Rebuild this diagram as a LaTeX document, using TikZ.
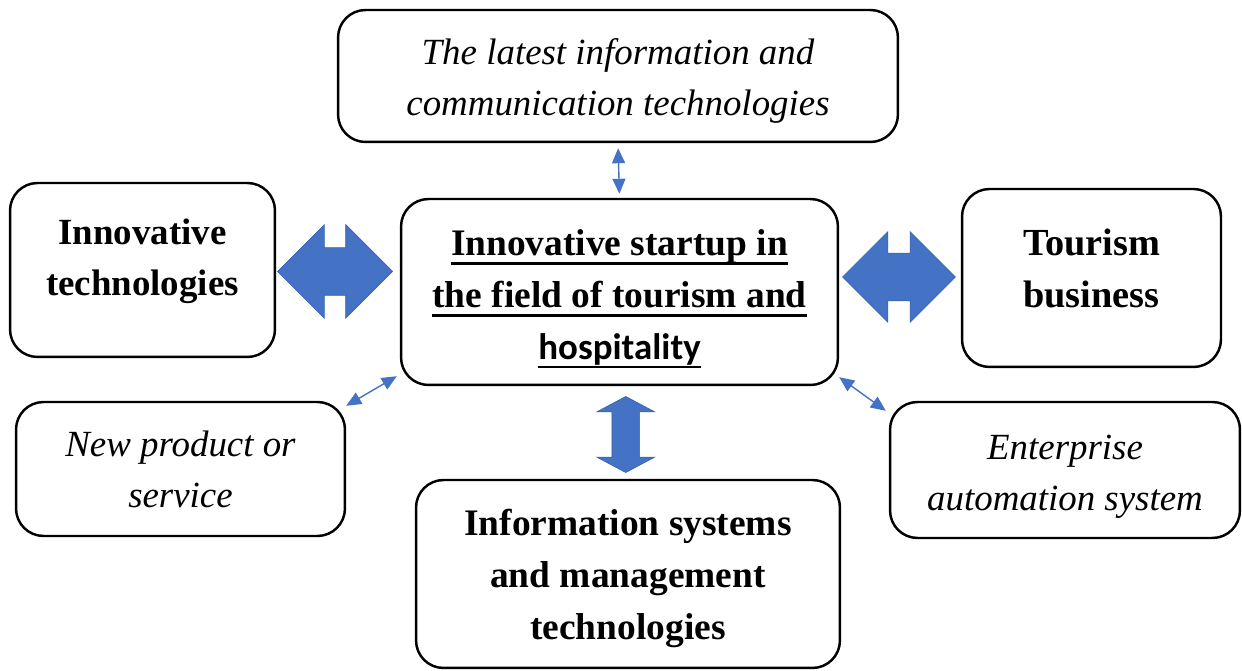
\documentclass[tikz,border=0pt]{standalone}
\usepackage{fontspec}
\setmainfont{Liberation Serif}
\newfontfamily\calibrifont{Carlito}
\usetikzlibrary{shapes.arrows,arrows.meta,calc}

\definecolor{arrowblue}{HTML}{4472C4}
\definecolor{arrowedge}{HTML}{3A64AD}

% heavier underline, set a little below the baseline
\newcommand{\thickul}[1]{\leavevmode\setbox0\hbox{#1}%
  \rlap{\vrule width \wd0 height -3.6pt depth 5pt}\box0}
% invisible struts to push box text up or down
\newcommand{\topstrut}[1]{\rule{0pt}{#1}}
\newcommand{\botstrut}[1]{\rule[-#1]{0pt}{#1}}

\begin{document}
\begin{tikzpicture}
[x=0.02cm,y=-0.02cm,
box/.style={draw=black,line width=1.4pt,rounded corners=0.55cm,align=center,
  font=\fontsize{21}{29.5}\selectfont},
boldbox/.style={box,font=\fontsize{21.3}{29.5}\selectfont\bfseries},
itbox/.style={box,font=\fontsize{21}{29}\selectfont\itshape},
blockarrow/.style={double arrow,fill=arrowblue,draw=arrowedge,line width=0.4pt,
  inner xsep=0pt,double arrow head indent=0pt},
thinarrow/.style={draw=arrowblue,line width=0.8pt,
  {Triangle[length=0.3cm,width=0.26cm]}-{Triangle[length=0.3cm,width=0.26cm]}}]

\useasboundingbox (0,0) rectangle (1242,671);

% central startup box
\node[boldbox,minimum width=8.74cm,minimum height=3.72cm] (startup) at (619.5,292)
  {\topstrut{23pt}\thickul{Innovative startup in}\\ \thickul{the field of tourism and}\\
   \thickul{\calibrifont\fontsize{21}{29.5}\selectfont hospitality}};

% surrounding boxes
\node[itbox,minimum width=11.2cm,minimum height=2.64cm] (ict) at (618,76)
  {\topstrut{20pt}The latest information and\\ communication technologies};
\node[boldbox,minimum width=5.3cm,minimum height=3.48cm,font=\fontsize{21}{29.5}\selectfont\bfseries] (innov) at (142.5,270)
  {Innovative\\ technologies\botstrut{14.5pt}};
\node[boldbox,minimum width=5.18cm,minimum height=3.56cm,font=\fontsize{21.8}{29.5}\selectfont\bfseries] (tourism) at (1091.5,278)
  {Tourism\\ business\botstrut{11.3pt}};
\node[itbox,minimum width=6.58cm,minimum height=2.68cm] (product) at (180.5,469)
  {New product or\\ service};
\node[boldbox,minimum width=8.48cm,minimum height=3.76cm] (infosys) at (628,574)
  {\topstrut{20pt}Information systems\\ and management\\ technologies};
\node[itbox,minimum width=7.0cm,minimum height=2.72cm] (automation) at (1065,470)
  {\topstrut{21.3pt}Enterprise\\ automation system};

% block arrows
\node[blockarrow,minimum height=2.3cm,inner ysep=0.47cm,double arrow head extend=0.46cm]
  (arrL) at ($(innov.east)!0.5!(startup.west)+(-3,-9.5)$) {};
\node[blockarrow,minimum height=2.26cm,inner ysep=0.47cm,double arrow head extend=0.43cm]
  (arrR) at ($(startup.east)!0.5!(tourism.west)+(-1,-8)$) {};
\node[blockarrow,rotate=90,minimum height=1.52cm,inner ysep=0.27cm,double arrow head extend=0.3cm,
  double arrow tip angle=124] (arrB) at ($(startup.south)!0.5!(infosys.north)+(2,2)$) {};

% thin connectors
\draw[thinarrow,shorten <=0.1cm,shorten >=0.08cm] (ict.south) -- (startup.north);
\draw[thinarrow] ($(startup.south west)+(-3,-10)$) -- ($(product.north east)+(0,5)$);
\draw[thinarrow] ($(startup.south east)+(0,-9)$) -- ($(automation.north west)+(-3,10)$);
\end{tikzpicture}
\end{document}
